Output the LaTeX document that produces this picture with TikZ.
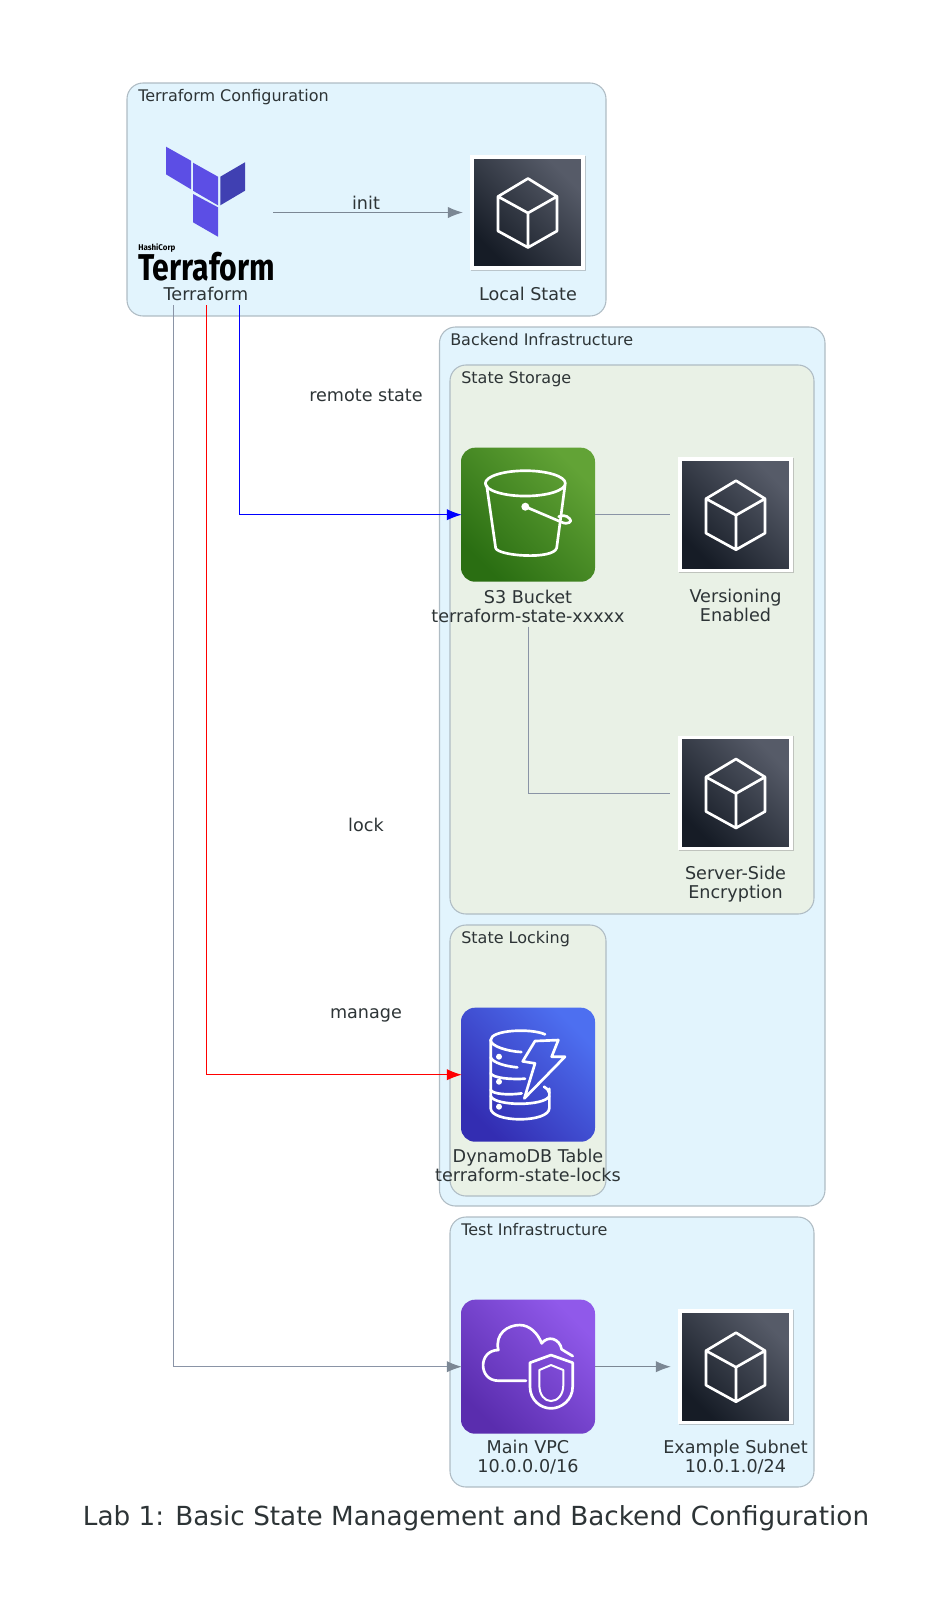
\documentclass[tikz,border=0pt]{standalone}
\usepackage{fontspec}
\setmainfont{DejaVu Sans}
\newfontfamily\logofont{Fira Sans}
\usetikzlibrary{arrows.meta,shadows,calc}
\definecolor{clblue}{HTML}{E2F4FD}
\definecolor{clgreen}{HTML}{E9F1E6}
\definecolor{clborder}{HTML}{AFBCC4}
\definecolor{txt}{HTML}{2D3436}
\definecolor{gline}{HTML}{7B8794}
\definecolor{sline}{HTML}{8A94A6}
\definecolor{dkA}{HTML}{161C26}
\definecolor{dkB}{HTML}{565B68}
\definecolor{s3A}{HTML}{2A6E12}
\definecolor{s3B}{HTML}{62A336}
\definecolor{dyA}{HTML}{332DB2}
\definecolor{dyB}{HTML}{4D6FF0}
\definecolor{vpA}{HTML}{5A2DAE}
\definecolor{vpB}{HTML}{9059EA}
\definecolor{tfA}{HTML}{5C4EE5}
\definecolor{tfB}{HTML}{4040B2}
\tikzset{
  cluster/.style={draw=clborder,line width=.8pt,rounded corners=12pt},
  cltext/.style={text=txt,font=\fontsize{12}{14}\selectfont,anchor=west,inner sep=0pt},
  lab/.style={text=txt,font=\fontsize{13.2}{14.25}\selectfont,align=center,inner sep=0pt},
  iconbase/.style={minimum size=100.5pt,inner sep=0pt,outer sep=0pt,rounded corners=10.5pt},
  diag/.style={shading=axis,bottom color=#1A,top color=#1B,shading angle=-45},
  holder/.style={minimum size=98.25pt,inner sep=0pt,outer sep=0pt},
  framebox/.style={fill=white,minimum size=86pt,inner sep=0pt,drop shadow={shadow xshift=.6pt,shadow yshift=-.6pt,opacity=.4}},
  darkbox/.style={minimum size=80pt,inner sep=0pt,diag=dk},
  glyph/.style={draw=white,line width=2pt,line join=round,line cap=round},
  conn/.style={line width=.75pt},
  arr/.style={conn,shorten >=-.6pt,-{Latex[length=11.25pt,width=8.5pt]}},
}
\newcommand{\cubeicon}[1]{%
  \node[framebox] at (#1) (#1frame) {};
  \node[darkbox] at (#1) (#1dark) {};
  \draw[glyph,shift={(#1)},x=.75pt,y=-.75pt]
    (.5,-34) -- (29.5,-16) -- (29.5,18.5) -- (.5,35) -- (-29.5,18.5) -- (-29.5,-16) -- cycle
    (-29.5,-16) -- (.5,.5) -- (29.5,-16) (.5,.5) -- (.5,35);
}
\begin{document}
\begin{tikzpicture}[x=.75pt,y=-.75pt]
\useasboundingbox (0,0) rectangle (952,1611);
% clusters
\draw[cluster,fill=clblue] (127,83) rectangle (606,316);
\draw[cluster,fill=clblue] (439.5,327) rectangle (825,1206);
\draw[cluster,fill=clgreen] (450,365) rectangle (814,914);
\draw[cluster,fill=clgreen] (450,925) rectangle (606,1196);
\draw[cluster,fill=clblue] (450,1217) rectangle (814,1487);
\node[cltext] (c1) at (138,97) {Terraform Configuration};
\node[cltext] (c2) at (450,340) {Backend Infrastructure};
\node[cltext] (c3) at (461,379) {State Storage};
\node[cltext] (c4) at (461,939) {State Locking};
\node[cltext] (c5) at (461,1230) {Test Infrastructure};
% terraform logo
\node[minimum width=100.5pt,minimum height=123.75pt,inner sep=0pt,outer sep=0pt] (tf) at (206,222.5) {};
\fill[tfA] (166,146.7) -- (191,160.7) -- (191,189.3) -- (166,174.3) -- cycle;
\fill[tfA] (193,162.7) -- (218,176.7) -- (218,205.3) -- (193,190.7) -- cycle;
\fill[tfB] (220.3,176.7) -- (245,162.3) -- (245,190.7) -- (220.3,205.3) -- cycle;
\fill[tfA] (193,194) -- (218,207.3) -- (218,236.7) -- (193,222.3) -- cycle;
\node[anchor=west,inner sep=0pt,text=black] (hc) at (138,248) {\scalebox{.96}[1]{\logofont\bfseries\fontsize{6.2}{7}\selectfont HashiCorp}};
\node[anchor=west,inner sep=0pt,text=black] (tfw) at (138,267) {\scalebox{.81}[1]{\logofont\bfseries\fontsize{28}{28}\selectfont Terraform}};
% icons
\node[holder] (local) at (527.5,212.5) {};
\cubeicon{local}
\node[iconbase,diag=s3] (s3) at (528,514.7) {};
\node[holder] (ver) at (735.5,514.7) {};
\cubeicon{ver}
\node[holder] (enc) at (735.5,793) {};
\cubeicon{enc}
\node[iconbase,diag=dy] (dyn) at (528,1074.7) {};
\node[iconbase,diag=vp] (vpc) at (528,1366.7) {};
\node[holder] (sub) at (735.5,1366.7) {};
\cubeicon{sub}
% S3 glyph
\begin{scope}[shift={(s3)},x=.25pt,y=-.25pt]
\draw[glyph] (-8,-94) ellipse[x radius=120,y radius=38];
\draw[glyph] (-124,-88) -- (-97,100) .. controls (-90,124) and (75,136) .. (86,100) -- (111,-88);
\draw[glyph] (-8,-24) -- (100,22) .. controls (120,32) and (135,20) .. (125,12) .. controls (115,0) and (100,2) .. (92,6);
\fill[white] (-8,-24) circle[radius=12];
\end{scope}
% Dynamo glyph
\begin{scope}[shift={(dyn)},x=.25pt,y=-.25pt]
\draw[glyph] (51,-121) .. controls (10,-140) and (-112,-135) .. (-112,-104) .. controls (-112,-85) and (-60,-70) .. (-20,-68);
\draw[glyph] (-112,-104) -- (-112,100) .. controls (-112,145) and (64,145) .. (64,100) -- (64,42);
\draw[glyph] (-112,-52) .. controls (-105,-35) and (-65,-25) .. (-32,-22);
\draw[glyph] (-112,-4) .. controls (-105,10) and (-50,15) .. (-9,12);
\draw[glyph] (-112,46) .. controls (-105,58) and (-60,62) .. (-19,56);
\draw[glyph] (-112,64) .. controls (-100,95) and (50,95) .. (64,64);
\draw[glyph] (48,36) .. controls (55,40) and (62,45) .. (64,55);
\fill[white] (-87,-54) circle[radius=9] (-87,21) circle[radius=9] (-87,96) circle[radius=9];
\draw[glyph] (21,-101) -- (91,-104) -- (71,-54) -- (111,-54) -- (-11,71) -- (21,-34) -- (-16,-40) -- cycle;
\end{scope}
% VPC glyph
\begin{scope}[shift={(vpc)},x=.25pt,y=-.25pt]
\draw[glyph] (-6,42) -- (-89,42) .. controls (-150,42) and (-150,-50) .. (-89,-50) .. controls (-100,-100) and (-60,-125) .. (-25,-125) .. controls (5,-125) and (30,-100) .. (41,-70) .. controls (60,-95) and (95,-85) .. (101,-52) -- (134,-32);
\draw[glyph] (69,-35) -- (134,-12) -- (134,60) .. controls (134,100) and (100,125) .. (69,125) .. controls (38,125) and (6,100) .. (6,60) -- (6,-12) -- cycle;
\draw[glyph,line width=1.5pt] (69,-5) -- (106,10) -- (106,55) .. controls (106,85) and (88,103) .. (69,103) .. controls (50,103) and (34,85) .. (34,55) -- (34,10) -- cycle;
\end{scope}
% labels
\node[lab] (ltf) at (206,294) {Terraform};
\node[lab] (lloc) at (528,294) {Local State};
\node[lab,minimum height=30pt,anchor=north] (ls3) at (528,586) {S3 Bucket\\terraform-state-xxxxx};
\node[lab] (lver) at (735.5,605.5) {Versioning\\Enabled};
\node[lab] (lenc) at (735.5,884) {Server-Side\\Encryption};
\node[lab] (ldyn) at (528,1165.5) {DynamoDB Table\\terraform-state-locks};
\node[lab] (lvpc) at (528,1457.5) {Main VPC\\10.0.0.0/16};
\node[lab] (lsub) at (735.5,1457.5) {Example Subnet\\10.0.1.0/24};
\node[lab] (einit) at (366,203) {init};
\node[lab] (erem) at (366,395) {remote state};
\node[lab] (elock) at (366,825) {lock};
\node[lab] (eman) at (366,1015) {manage};
\node[text=txt,font=\fontsize{19.7}{24}\selectfont,inner sep=0pt] (title) at (476,1518) {Lab 1: Basic State Management and Backend Configuration};
% connectors
\coordinate (tfgray) at ($(tf.south)+(-33,0)$);
\coordinate (tfblue) at ($(tf.south)+(33,0)$);
\draw[arr,draw=gline] (tf.east |- local) -- (local.west);
\draw[arr,draw=blue] (tfblue) |- (s3.west);
\draw[arr,draw=red] (tf.south) |- (dyn.west);
\draw[conn,shorten >=-.6pt,draw=sline,-{Latex[length=11.25pt,width=8.5pt,color=gline]}] (tfgray) |- (vpc.west);
\draw[conn,draw=sline] (s3.east) -- (ver.west);
\draw[conn,draw=sline] (ls3.south) |- (enc.west);
\draw[arr,draw=gline] (vpc.east) -- (sub.west);
\end{tikzpicture}
\end{document}
